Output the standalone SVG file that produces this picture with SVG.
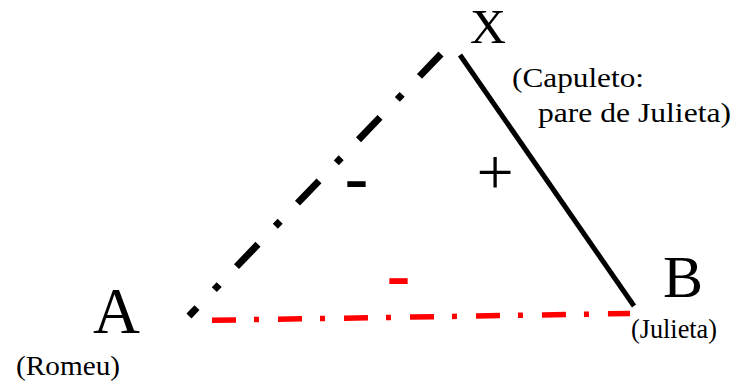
<svg xmlns="http://www.w3.org/2000/svg" width="746" height="381" viewBox="0 0 746 381">
<style>
.lbl{font-family:"Liberation Serif","Times New Roman",serif;fill:#000}
.big{font-size:48px}
.sm{font-size:28px}
.sign{font-family:"Liberation Sans",Arial,sans-serif;font-size:75px;text-anchor:middle}
</style>
<rect width="746" height="381" fill="#fff"/>
<g id="connectors" fill="none">
<path id="A-X" d="M441,54 L189,316" stroke="#000" stroke-width="7" stroke-dasharray="31 25 7 25"/>
<path id="X-B" d="M460,55 L634,306" stroke="#000" stroke-width="5"/>
<path id="A-B" d="M212,320.3 L630,313.5" stroke="#f00" stroke-width="5.5" stroke-dasharray="24 18 5 19"/>
</g>
<g id="node-X">
<text class="lbl big" x="470" y="43" textLength="36" lengthAdjust="spacingAndGlyphs">X</text>
<text class="lbl sm" x="512" y="87" font-size="29" textLength="132" lengthAdjust="spacingAndGlyphs">(Capuleto:</text>
<text class="lbl sm" x="538" y="122" font-size="29" textLength="193" lengthAdjust="spacingAndGlyphs">pare de Julieta)</text>
</g>
<g id="node-A">
<text class="lbl" x="93" y="333" font-size="65">A</text>
<text class="lbl sm" x="16" y="375" font-size="26.5" textLength="104" lengthAdjust="spacingAndGlyphs">(Romeu)</text>
</g>
<g id="node-B">
<text class="lbl" x="663" y="297" font-size="60">B</text>
<text class="lbl sm" x="631" y="338" font-size="26" textLength="86" lengthAdjust="spacingAndGlyphs">(Julieta)</text>
</g>
<g id="signs">
<text class="lbl" x="495" y="194" font-size="66" text-anchor="middle">+</text>
<text class="sign" x="356.5" y="204" fill="#000">-</text>
<text class="sign" x="398.5" y="301" fill="#f00">-</text>
</g>
</svg>
